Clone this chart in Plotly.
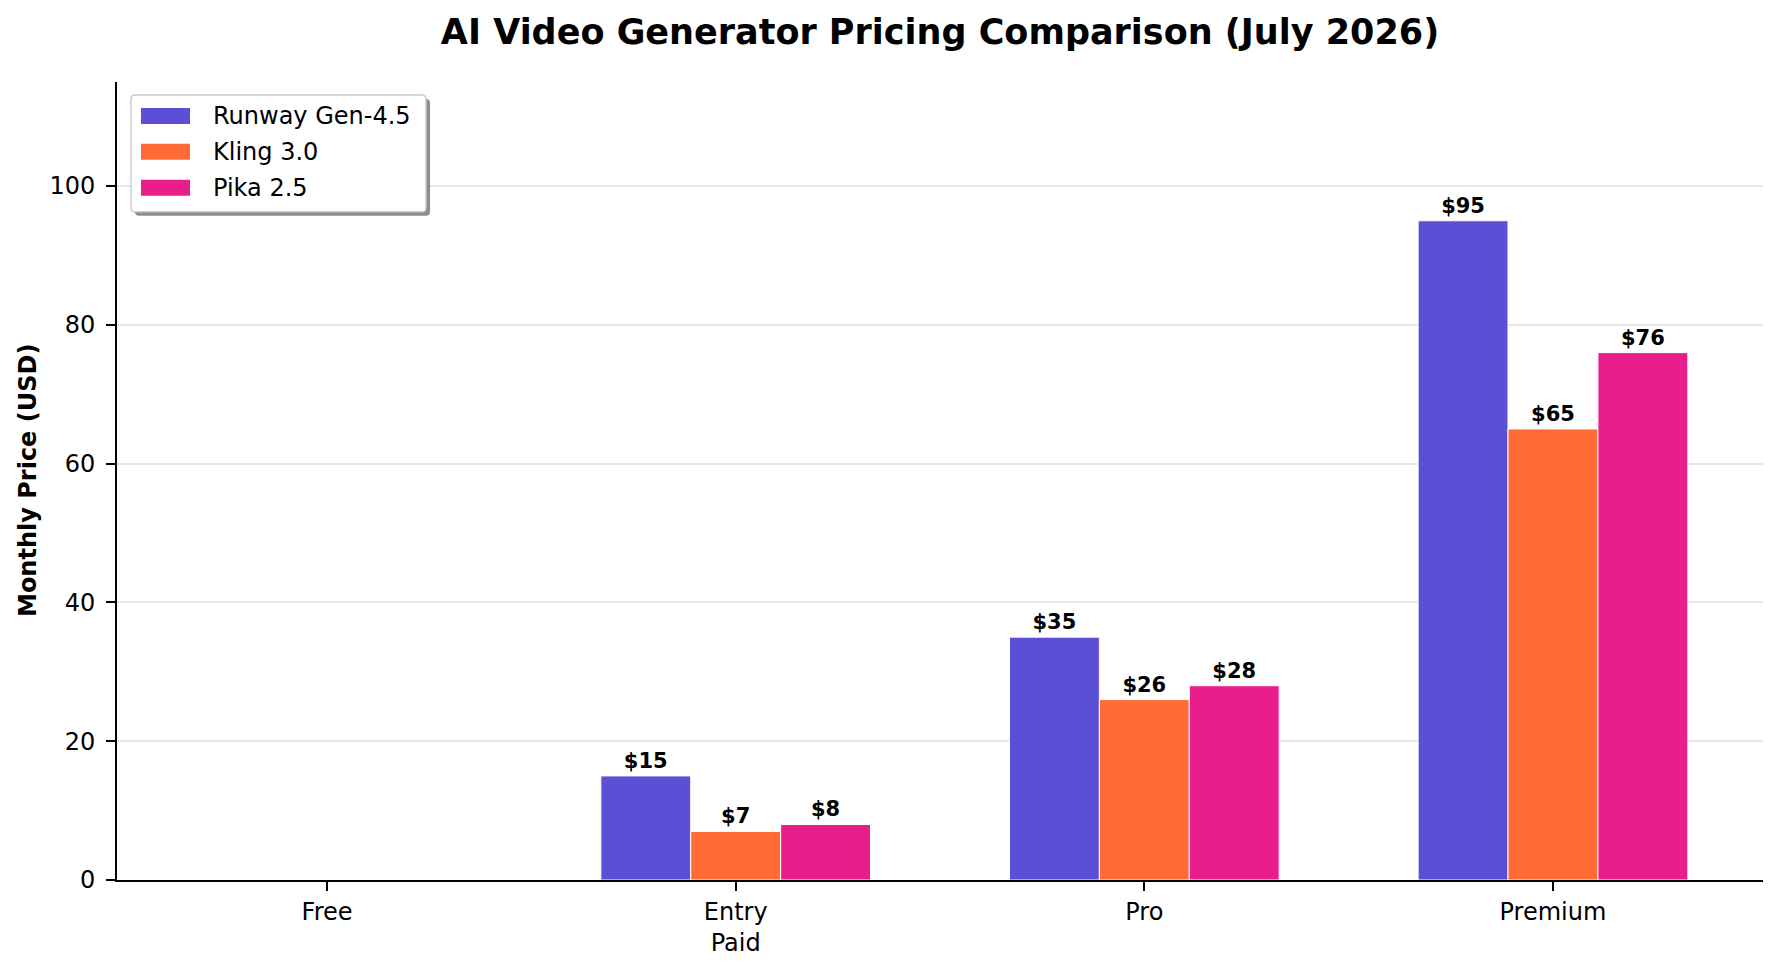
import plotly.graph_objects as go

tiers = ["Free", "Entry<br>Paid", "Pro", "Premium"]
runway = [0, 15, 35, 95]
kling = [0, 7, 26, 65]
pika = [0, 8, 28, 76]
series_names = ["Runway Gen-4.5", "Kling 3.0", "Pika 2.5"]
colors = ["#5B4FD5", "#FF6B35", "#E91E8C"]
y_ticks = [0, 20, 40, 60, 80, 100]

FONT = "DejaVu Sans"
W, H = 1780, 969
L, R, T, B = 117, 17, 82, 87
PW, PH = W - L - R, H - T - B


def px(x):
    return (x - L) / PW


def py(y):
    return (H - B - y) / PH


fig = go.Figure()
for name, vals, col in zip(series_names, [runway, kling, pika], colors):
    fig.add_trace(go.Bar(
        x=tiers, y=vals, name=name,
        marker=dict(color=col, line=dict(color="white", width=1)),
        text=[f"${v}" if v > 0 else "" for v in vals],
        textposition="outside",
        textfont=dict(family=FONT, size=21, color="black", weight="bold"),
        cliponaxis=False,
        showlegend=False,
    ))

fig.update_layout(
    width=W, height=H,
    margin=dict(l=L, r=R, t=T, b=B),
    paper_bgcolor="white", plot_bgcolor="white",
    barmode="group", bargap=0.34, bargroupgap=0,
    font=dict(family=FONT, size=24, color="black"),
    title=dict(text="<b>AI Video Generator Pricing Comparison (July 2026)</b>",
               x=0.5, xref="paper", xanchor="center",
               y=1 - 32 / H, yref="container", yanchor="middle",
               font=dict(family=FONT, size=35, color="black")),
    showlegend=False,
    xaxis=dict(range=[-0.514, 3.514], showline=True, linecolor="black", linewidth=2,
               ticks="outside", ticklen=9, tickwidth=1.5, tickcolor="black",
               showgrid=False, tickfont=dict(size=24)),
    yaxis=dict(range=[0, 115], tickvals=y_ticks, showline=True, linecolor="black", linewidth=2,
               ticks="outside", ticklen=9, tickwidth=1.5, tickcolor="black",
               showgrid=True, gridcolor="rgba(176,176,176,0.3)", gridwidth=1.5,
               zeroline=False, layer="above traces", tickfont=dict(size=24),
               ticklabelstandoff=6),
)

fig.add_annotation(text="<b>Monthly Price (USD)</b>", textangle=-90,
                   x=px(28), y=0.5, xref="paper", yref="paper",
                   xanchor="center", yanchor="middle", showarrow=False,
                   font=dict(family=FONT, size=24, color="black"))


def rounded_rect(x0, y0, x1, y1, r):
    # pixel coords -> paper path with rounded corners
    pts = []
    def P(x, y):
        return f"{px(x):.6f},{py(y):.6f}"
    return (f"M {P(x0 + r, y0)} L {P(x1 - r, y0)} Q {P(x1, y0)} {P(x1, y0 + r)} "
            f"L {P(x1, y1 - r)} Q {P(x1, y1)} {P(x1 - r, y1)} "
            f"L {P(x0 + r, y1)} Q {P(x0, y1)} {P(x0, y1 - r)} "
            f"L {P(x0, y0 + r)} Q {P(x0, y0)} {P(x0 + r, y0)} Z")


# legend (custom, matplotlib-like)
bx0, by0, bx1, by1 = 131, 95, 426, 212
fig.add_shape(type="path", xref="paper", yref="paper",
              path=rounded_rect(bx0 + 4, by0 + 4, bx1 + 4, by1 + 4, 4),
              fillcolor="#8c8c8c", line=dict(width=0), layer="above")
fig.add_shape(type="path", xref="paper", yref="paper",
              path=rounded_rect(bx0, by0, bx1, by1, 4),
              fillcolor="white", line=dict(color="#cccccc", width=1.5), layer="above")
row_y = [116, 152, 188]
for name, col, yc in zip(series_names, colors, row_y):
    fig.add_shape(type="rect", xref="paper", yref="paper",
                  x0=px(141), x1=px(190), y0=py(yc + 8), y1=py(yc - 8),
                  fillcolor=col, line=dict(width=0), layer="above")
    fig.add_annotation(text=name, x=px(211), y=py(yc), xref="paper", yref="paper",
                       xanchor="left", yanchor="middle", showarrow=False,
                       font=dict(family=FONT, size=24, color="black"))

fig.write_html("out.html")
